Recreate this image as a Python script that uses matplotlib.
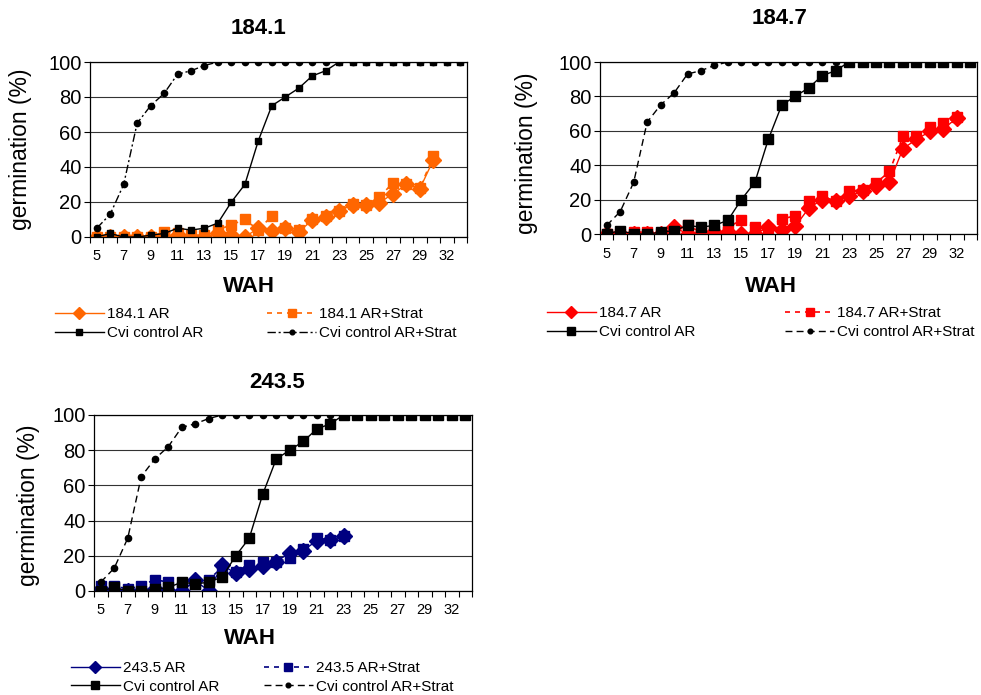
import numpy as np
import matplotlib
matplotlib.use("Agg")
import matplotlib.pyplot as plt

plt.rcParams['font.family'] = ['Liberation Sans', 'DejaVu Sans']

# weeks after harvest (category axis)
wah = [5, 6, 7, 8, 9, 10, 11, 12, 13, 14, 15, 16, 17, 18, 19, 20, 21, 22, 23,
       24, 25, 26, 27, 28, 29, 30, 32, 33]
wah_labels = ["5", "7", "9", "11", "13", "15", "17", "19", "21", "23", "25",
              "27", "29", "32"]

cvi_ar = [0, 2, 0, 0, 1, 2, 5, 4, 5, 8, 20, 30, 55, 75, 80, 85, 92, 95,
          100, 100, 100, 100, 100, 100, 100, 100, 100, 100]
cvi_strat = [5, 13, 30, 65, 75, 82, 93, 95, 98, 100, 100, 100, 100, 100,
             100, 100, 100, 100, 100, 100, 100, 100, 100, 100, 100, 100, 100, 100]

l1841_ar = [0, 0, 0, 0, 0, 0, 1, 0, 0, 2, 1, 0, 5, 3.6, 5, 3, 9.6, 11.5,
            14.7, 18.5, 18.5, 19.6, 24.7, 30, 27.6, 44]
l1841_strat = [0, 0, 0, 0, 0, 3, 2, 1, 1, 4, 7, 10, 4, 12, 5, 4, 10, 12,
               15, 19, 18.5, 22.8, 31, 30, 28, 46]

l1847_ar = [0, 0, 0, 0, 0, 4, 0, 0, 1, 1, 0, 0, 4, 2.5, 4.4, 15, 20, 19,
            22, 25, 27.7, 30, 49.6, 55, 59.6, 61, 67.5]
l1847_strat = [0, 0, 1, 1, 0, 1, 5, 1, 2, 4, 8, 4, 3, 8.7, 10.6, 19, 22, 19,
               24.8, 25.8, 29.6, 36.4, 56.7, 56.7, 62, 64.5, 68]

l2435_ar = [1, 0, 0, 0, 1, 0, 0, 6, 0, 14.7, 10, 12.6, 14, 16.7, 21.7, 23,
            28.6, 29, 31]
l2435_strat = [3, 3, 1, 3, 6.5, 5, 2, 4, 6.5, 13.4, 11, 15, 16.7, 16.7, 18.6,
               24, 30, 29, 31]

W, H = 981, 695
fig = plt.figure(figsize=(W / 100, H / 100), dpi=100)


def px_axes(left, top, right, bottom):
    return fig.add_axes([left / W, 1 - bottom / H, (right - left) / W,
                         (bottom - top) / H])


def panel(box, name, color, ar, strat, sq_size, cvi_dash, title_xy, wah_xy,
          ylab_xy, leg_xy, colsp, legsp=0.35):
    ax = px_axes(*box)
    x = np.arange(len(wah))
    ax.plot(x[:len(strat)], strat, color=color, lw=1.2, ls=(0, (3, 3)),
            marker='s', ms=7, mec=color, label=name + " AR+Strat")
    ax.plot(x[:len(ar)], ar, color=color, lw=1.0, marker='D', ms=8.5,
            mec=color, label=name + " AR")
    ax.plot(x, cvi_ar, color='black', lw=1.0, marker='s', ms=sq_size,
            label="Cvi control AR")
    ax.plot(x, cvi_strat, color='black', lw=1.0, ls=cvi_dash, marker='o',
            ms=4.5, label="Cvi control AR+Strat")

    ax.set_xlim(-0.5, len(wah) - 0.5)
    ax.set_ylim(0, 100)
    ax.set_yticks([0, 20, 40, 60, 80, 100])
    ax.tick_params(axis='y', labelsize=14.5, length=4, width=0.8, pad=2)
    ax.set_xticks(np.arange(len(wah) + 1) - 0.5)
    ax.set_xticklabels([])
    ax.set_xticks(x[::2], minor=True)
    ax.set_xticklabels(wah_labels, minor=True)
    ax.tick_params(axis='x', which='major', length=4, width=0.8)
    ax.tick_params(axis='x', which='minor', length=0, labelsize=10.5, pad=9)
    ax.yaxis.grid(True, color='0.2', lw=0.8)
    ax.set_axisbelow(True)
    for s in ax.spines.values():
        s.set_linewidth(0.9)

    fig.text(title_xy[0] / W, 1 - title_xy[1] / H, name, ha='center',
             va='center', fontsize=16, fontweight='bold')
    fig.text(wah_xy[0] / W, 1 - wah_xy[1] / H, "WAH", ha='center',
             va='center', fontsize=16, fontweight='bold')
    fig.text(ylab_xy[0] / W, 1 - ylab_xy[1] / H, "germination (%)",
             ha='center', va='center', rotation=90, fontsize=16.5)

    h, l = ax.get_legend_handles_labels()
    order = [1, 2, 0, 3]
    fig.legend([h[i] for i in order], [l[i] for i in order], ncol=2,
               loc='upper left',
               bbox_to_anchor=(leg_xy[0] / W, 1 - leg_xy[1] / H),
               frameon=False, borderpad=0, borderaxespad=0, fontsize=11,
               handlelength=3.2, handletextpad=0.2, columnspacing=colsp,
               labelspacing=legsp, markerscale=0.75)
    return ax


panel((90, 62, 467, 237), "184.1", '#FF6600', l1841_ar, l1841_strat, 5,
      (0, (6, 2, 1.5, 2)), (259, 28), (249, 286), (21, 149), (55, 307), 4.2)
panel((600, 62, 977, 234), "184.7", '#FF0000', l1847_ar, l1847_strat, 7,
      (0, (5, 3)), (780, 19), (771, 287), (527, 153), (547, 306), 5.9)
panel((94, 415, 472, 591), "243.5", '#000080', l2435_ar, l2435_strat, 7,
      (0, (5, 3)), (277, 383), (250, 638), (29, 505), (71, 661), 2.9, 0.3)

fig.savefig("out.png", dpi=100)
